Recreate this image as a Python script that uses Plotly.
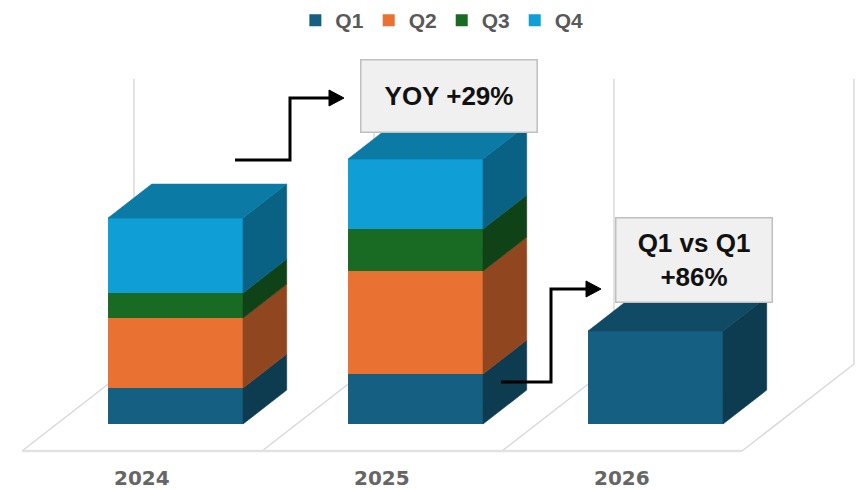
import plotly.graph_objects as go

# ---------------- data ----------------
years = ["2024", "2025", "2026"]
quarters = ["Q1", "Q2", "Q3", "Q4"]
q1 = [36, 50, 93]
q2 = [70, 103, None]
q3 = [25, 42, None]
q4 = [75, 70, None]
series = [q1, q2, q3, q4]
colors = ["#156082", "#E97132", "#196B24", "#0F9ED5"]
yoy_label = "YOY +29%"
q1_label = "Q1 vs Q1<br>+86%"

# ---------------- geometry (3D oblique projection) ----------------
W, H = 858, 490
KX = 112 / 240      # x-axis units shifted per full floor depth
KY = 87             # value units shifted per full floor depth
D0, D1 = 0.31, 0.70 # bar front / back depth
BAR_C = 0.495       # bar centre inside category
BAR_W = 0.5625      # bar width (category units)
WALL_TOP = 285      # back wall height (value units)
LABEL_V = -27       # year label level


def proj(u, v, d):
    return u + d * KX, v + d * KY


def shade(hexc, f):
    hexc = hexc.lstrip("#")
    r, g, b = (int(hexc[i:i + 2], 16) for i in (0, 2, 4))
    return "#%02x%02x%02x" % (int(r * f), int(g * f), int(b * f))


def px(x, y):
    return x / W, 1 - y / H


fig = go.Figure()

# floor and back wall lines
n = len(years)
for k in range(n + 1):
    xa, ya = proj(k, 0, 0)
    xb, yb = proj(k, 0, 1)
    xc, yc = proj(k, WALL_TOP, 1)
    fig.add_shape(type="line", xref="x", yref="y", x0=xa, y0=ya, x1=xb, y1=yb,
                  line=dict(color="#d9d9d9", width=1.5), layer="below")
    fig.add_shape(type="line", xref="x", yref="y", x0=xb, y0=yb, x1=xc, y1=yc,
                  line=dict(color="#d9d9d9", width=1.5), layer="below")
xa, ya = proj(0, 0, 0)
xb, yb = proj(n, 0, 0)
fig.add_shape(type="line", xref="x", yref="y", x0=xa, y0=ya, x1=xb, y1=yb,
              line=dict(color="#e2e2e2", width=2.5), layer="below")

# stacked bars: front faces as bars, side / top faces as polygons
bottoms = [0] * n
sides = []
for q, vals, col in zip(quarters, series, colors):
    xs, ys, bs = [], [], []
    for i, v in enumerate(vals):
        if v is None:
            continue
        xc, yb0 = proj(i + BAR_C, bottoms[i], D0)
        xs.append(xc)
        ys.append(v)
        bs.append(yb0)
        ur = i + BAR_C + BAR_W / 2
        pts = [proj(ur, bottoms[i], D0), proj(ur, bottoms[i], D1),
               proj(ur, bottoms[i] + v, D1), proj(ur, bottoms[i] + v, D0),
               proj(ur, bottoms[i], D0)]
        sides.append((pts, shade(col, 0.62)))
    fig.add_trace(go.Bar(name=q, x=xs, y=ys, base=bs, width=BAR_W,
                         marker=dict(color=col, line=dict(width=0)),
                         hoverinfo="skip"))
    for i, v in enumerate(vals):
        if v is not None:
            bottoms[i] += v

for pts, c in sides:
    fig.add_trace(go.Scatter(x=[p[0] for p in pts], y=[p[1] for p in pts],
                             mode="lines", fill="toself", fillcolor=c,
                             line=dict(color=c, width=0.6), showlegend=False,
                             hoverinfo="skip"))

# top faces (colour of topmost segment)
for i in range(n):
    top_col = None
    for vals, col in zip(series, colors):
        if vals[i] is not None:
            top_col = col
    ul = i + BAR_C - BAR_W / 2
    ur = i + BAR_C + BAR_W / 2
    T = bottoms[i]
    pts = [proj(ul, T, D0), proj(ur, T, D0), proj(ur, T, D1), proj(ul, T, D1),
           proj(ul, T, D0)]
    c = shade(top_col, 0.78)
    fig.add_trace(go.Scatter(x=[p[0] for p in pts], y=[p[1] for p in pts],
                             mode="lines", fill="toself", fillcolor=c,
                             line=dict(color=c, width=0.6), showlegend=False,
                             hoverinfo="skip"))

# year labels
for i, yr in enumerate(years):
    xl, _ = proj(i + 0.5, 0, 0)
    fig.add_annotation(x=xl, y=LABEL_V, xref="x", yref="y", text=yr,
                       showarrow=False,
                       font=dict(family="DejaVu Sans", size=20, color="#666666",
                                 weight="bold"))

# elbow arrows (pixel placement converted to paper)
def elbow(points, tip, head_len=15, head_half=8):
    path = "M " + " L ".join("%f,%f" % px(x, y) for x, y in points)
    fig.add_shape(type="path", xref="paper", yref="paper", path=path,
                  line=dict(color="black", width=3), layer="above")
    tx, ty = tip
    tri = [(tx, ty), (tx - head_len, ty - head_half), (tx - head_len, ty + head_half)]
    tpath = "M " + " L ".join("%f,%f" % px(x, y) for x, y in tri) + " Z"
    fig.add_shape(type="path", xref="paper", yref="paper", path=tpath,
                  fillcolor="black", line=dict(color="black", width=1), layer="above")


elbow([(235, 160), (290, 160), (290, 98), (332, 98)], (344, 98))
elbow([(501, 382), (551, 382), (551, 289), (589, 289)], (601, 289))

# callout boxes
def box(cx, cy, w, h, text):
    x, y = px(cx, cy)
    fig.add_annotation(x=x, y=y, xref="paper", yref="paper", text=text,
                       showarrow=False, xanchor="center", yanchor="middle",
                       width=w, height=h, bgcolor="#f0f0f0",
                       bordercolor="#c0c0c0", borderwidth=1.5, borderpad=0,
                       font=dict(family="Liberation Sans", size=26, color="#111111",
                                 weight="bold"))


box(449, 96, 175, 71, yoy_label)
box(694, 260, 155, 83, q1_label)

fig.update_layout(
    width=W, height=H,
    margin=dict(l=0, r=0, t=0, b=0),
    paper_bgcolor="white", plot_bgcolor="white",
    barmode="overlay",
    xaxis=dict(range=[-22 / 240, (W - 22) / 240], visible=False, fixedrange=True),
    yaxis=dict(range=[-39, 451], visible=False, fixedrange=True),
    showlegend=True,
    legend=dict(orientation="h", x=0.515, xanchor="center", y=1.0, yanchor="top",
                font=dict(family="Liberation Sans", size=21, color="#595959",
                          weight="bold"),
                itemwidth=30, tracegroupgap=0,
                bgcolor="rgba(0,0,0,0)"),
)

fig.write_html("out.html")
